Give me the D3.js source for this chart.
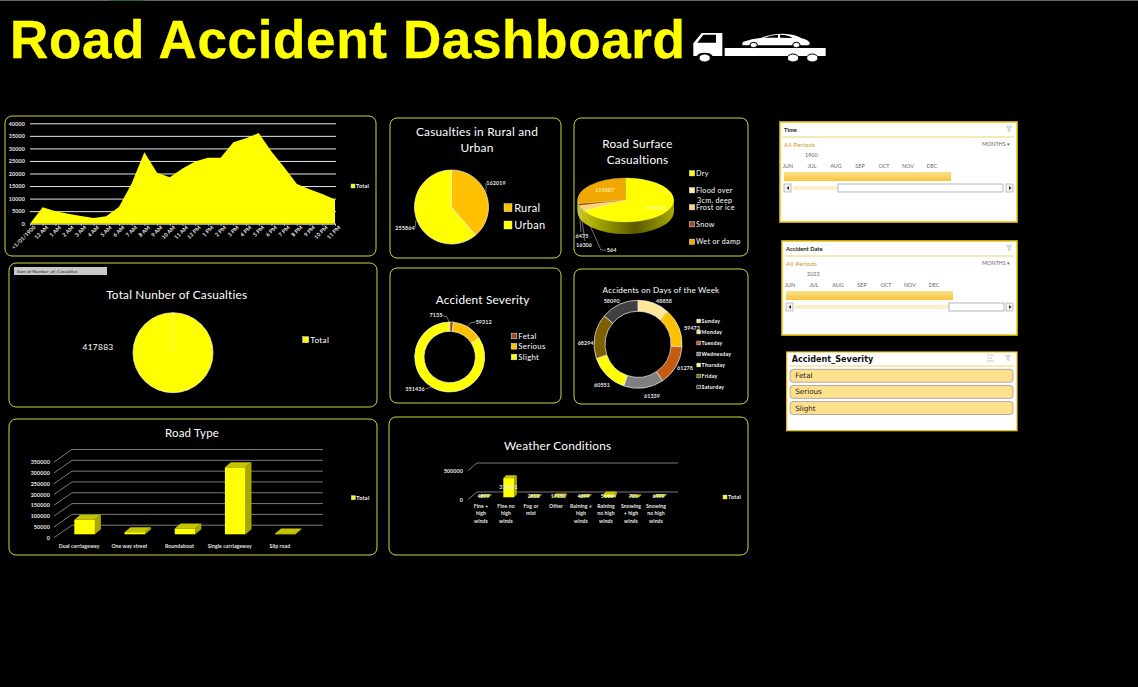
<!DOCTYPE html>
<html>
<head>
<meta charset="utf-8">
<script src="https://cdn.jsdelivr.net/npm/d3@7"></script>
<style>
  html, body { margin: 0; padding: 0; background: #000; overflow: hidden; }
  svg { display: block; }
  text { font-family: Lato, "Noto Sans", sans-serif; fill: #fff; }
  .small { font-size: 5.4px; font-weight: 700; fill: #e8e8e8; letter-spacing: 0.1px; }
  .domain { display: none; }
</style>
</head>
<body>
<div id="chart"></div>
<script>
// values
const hours = ["<1/01/1900", "12 AM", "1 AM", "2 AM", "3 AM", "4 AM", "5 AM", "6 AM", "7 AM", "8 AM", "9 AM", "10 AM", "11 AM",
  "12 PM", "1 PM", "2 PM", "3 PM", "4 PM", "5 PM", "6 PM", "7 PM", "8 PM", "9 PM", "10 PM", "11 PM"];
const hourValues = [0, 6600, 5000, 4000, 3100, 2300, 3000, 6700, 16000, 28500, 20300, 18500, 22000,
  24800, 26300, 26300, 32500, 34000, 36100, 28800, 22500, 15800, 13700, 11800, 9600];

const areaNames = ["Rural", "Urban"];
const areaValues = [162019, 255864];

const surfaceNames = ["Dry", "Flood over", "Frost or ice", "Snow", "Wet or damp"];
const surfaceValues = [279445, 564, 16306, 6475, 114887];

const totalValue = [417883];

const severityNames = ["Fetal", "Serious", "Slight"];
const severityValues = [7135, 59312, 351436];

const dayNames = ["Sunday", "Monday", "Tuesday", "Wednesday", "Thursday", "Friday", "Saturday"];
const dayValues = [48858, 59473, 61278, 61339, 60551, 68294, 58090];

const roadNames = ["Dual carriageway", "One way street", "Roundabout", "Single carriageway", "Slip road"];
const roadValues = [67368, 9900, 26828, 309698, 4089];
const roadTicks = [0, 50000, 100000, 150000, 200000, 250000, 300000, 350000];

const weatherNames = [["Fine +", "high", "winds"], ["Fine no", "high", "winds"], ["Fog or", "mist"], ["Other"],
  ["Raining +", "high", "winds"], ["Raining", "no high", "winds"], ["Snowing", "+ high", "winds"], ["Snowing", "no high", "winds"]];
const weatherValues = [4899, 330011, 2810, 17150, 4699, 51114, 701, 6499];
const weatherTicks = [0, 500000];

const monthLabels = ["JUN", "JUL", "AUG", "SEP", "OCT", "NOV", "DEC"];
const severityButtons = ["Fetal", "Serious", "Slight"];

const yellow = "#ffff00", orange = "#ffc000";
const panels = [
  [5, 116, 371, 140], [390, 118, 171, 140], [574, 118, 174, 138],
  [9, 263, 368, 144], [390, 268, 171, 135], [574, 269, 174, 135],
  [9, 419, 368, 136], [389, 417, 359, 138]
];

const svg = d3.select("#chart").append("svg").attr("width", 1138).attr("height", 687);

svg.append("rect").attr("width", 1138).attr("height", 1).attr("fill", "#666");
svg.append("rect").attr("x", 110).attr("width", 33).attr("height", 1).attr("fill", "#1d6b35");

svg.append("text")
  .attr("x", 10).attr("y", 57.5)
  .style("font-family", '"Liberation Sans", Arial, sans-serif')
  .style("font-weight", 700).style("font-size", "53px").style("fill", yellow)
  .style("letter-spacing", "0.65px")
  .attr("stroke", yellow).attr("stroke-width", 0.4)
  .text("Road Accident Dashboard");

// tow truck icon
const truck = svg.append("g").attr("transform", "translate(680,20) scale(0.3333)").attr("fill", "#fff");
truck.append("path").attr("d", "M40 70 L65 39 L127 39 L127 108 L98 108 A25 14 0 0 0 50 108 L40 108 Z");
truck.append("path").attr("d", "M52 68 L70 44 L108 44 L108 68 Z").attr("fill", "#000");
truck.append("rect").attr("x", 134).attr("y", 84).attr("width", 303).attr("height", 24);
truck.selectAll("ellipse.w").data([[74, 114], [339, 114], [397, 114]]).join("ellipse")
  .attr("cx", d => d[0]).attr("cy", d => d[1]).attr("rx", 17).attr("ry", 12)
  .attr("stroke", "#000").attr("stroke-width", 3);
truck.append("path").attr("d", "M187 76 L188 66 Q215 56 245 53 Q270 41 310 41 Q345 42 365 55 Q388 60 390 72 L384 76 L362 76 A14 12 0 0 0 336 76 L234 76 A14 12 0 0 0 208 76 Z");
truck.append("path").attr("d", "M252 53 Q270 45 294 44 L294 53 Z M300 44 Q322 44 338 54 L300 53 Z").attr("fill", "#000");
truck.selectAll("ellipse.c").data([[221, 75], [349, 75]]).join("ellipse")
  .attr("cx", d => d[0]).attr("cy", d => d[1]).attr("rx", 11).attr("ry", 8)
  .attr("stroke", "#000").attr("stroke-width", 3);

svg.selectAll("rect.panel").data(panels).join("rect")
  .attr("class", "panel")
  .attr("x", d => d[0]).attr("y", d => d[1]).attr("width", d => d[2]).attr("height", d => d[3])
  .attr("rx", 7).attr("fill", "#000").attr("stroke", "#d4d43c").attr("stroke-width", 1);

const title = (lines, x, y, size) => {
  svg.append("g").selectAll("text").data(lines).join("text")
    .attr("x", x).attr("y", (d, i) => y + i * 16)
    .attr("dy", "0.35em").attr("text-anchor", "middle")
    .style("font-size", `${size}px`).style("letter-spacing", "0.2px")
    .text(d => d);
};

const legend = (names, colors, x, ys, size, weight) => {
  const g = svg.append("g");
  const box = size * 0.72;
  names.forEach((name, i) => {
    g.append("rect")
      .attr("x", x - box / 2).attr("y", ys[i] - box / 2).attr("width", box).attr("height", box)
      .attr("fill", colors[i]).attr("stroke", "#eee").attr("stroke-width", 0.5);
    g.append("text")
      .attr("x", x + box / 2 + size * 0.2).attr("y", ys[i]).attr("dy", "0.35em")
      .style("font-size", `${size}px`).style("font-weight", weight || 400)
      .style("letter-spacing", "0.3px")
      .text(name);
  });
};

const label = (value, x, y, size) => {
  svg.append("text")
    .attr("x", x).attr("y", y).attr("dy", "0.35em").attr("text-anchor", "middle")
    .attr("class", "small").style("font-size", `${size || 5.4}px`)
    .text(value);
};

const leader = (points) => {
  svg.append("path")
    .attr("d", d3.line()(points))
    .attr("fill", "none").attr("stroke", "#bbb").attr("stroke-width", 0.6);
};

const drawPie = (values, colors, cx, cy, inner, outer) => {
  const pie = d3.pie().sort(null)(values);
  const arc = d3.arc().innerRadius(inner).outerRadius(outer);
  svg.append("g").attr("transform", `translate(${cx},${cy})`)
    .selectAll("path").data(pie).join("path")
    .attr("d", arc).attr("fill", (d, i) => colors[i])
    .attr("stroke", "#f2f2f2").attr("stroke-width", 0.7);
};

// casualties by hour
const drawHours = () => {
  const x = d3.scalePoint().domain(hours).range([30, 335]);
  const y = d3.scaleLinear().domain([0, 40000]).range([223.7, 123.3]);

  svg.append("g").attr("transform", "translate(30,0)")
    .call(d3.axisLeft(y).ticks(8).tickSize(-306).tickPadding(5).tickFormat(d3.format("d")))
    .call(g => g.selectAll("line").attr("stroke", "#e8e8e8"))
    .call(g => g.selectAll("text").attr("class", "small").style("fill", "#e8e8e8"));

  const area = d3.area()
    .x((d, i) => x(hours[i])).y0(y(0)).y1(d => y(d));
  svg.append("path").datum(hourValues).attr("d", area).attr("fill", yellow);

  svg.append("g").attr("transform", `translate(0,${y(0)})`)
    .call(d3.axisBottom(x).tickSize(2).tickPadding(2))
    .call(g => g.selectAll("line").attr("stroke", "#ccc"))
    .call(g => g.selectAll("text").attr("class", "small")
      .attr("text-anchor", "end").attr("dx", "1px").attr("dy", "0.5em")
      .attr("transform", "rotate(-45)"));

  legend(["Total"], [yellow], 353, [186], 5.4, 700);
};

// pie charts and donuts
const drawRural = () => {
  title(["Casualties in Rural and", "Urban"], 477, 132, 11.9);
  const colors = [orange, yellow];
  drawPie(areaValues, colors, 451.5, 207, 0, 37);
  label(areaValues[0], 496, 183);
  label(areaValues[1], 405, 228);
  leader([[486, 183], [486, 192]]);
  leader([[415, 228], [416, 220]]);
  legend(areaNames, colors, 508, [207.7, 225], 11);
};

const drawSurface = () => {
  title(["Road Surface", "Casualtions"], 637.5, 144, 11.8);
  const colors = [yellow, "#fff2a0", "#ffd37a", "#a0461e", "#f0a800"];
  const cx = 625.7, cy = 200, rx = 48, tilt = 0.46, thick = 12;
  const grad = svg.append("defs").append("linearGradient").attr("id", "rim");
  [[0, "#c8c800"], [0.15, "#b0b000"], [0.6, "#5a5a00"], [1, "#a8a800"]].forEach(s =>
    grad.append("stop").attr("offset", s[0]).attr("stop-color", s[1]));

  const arc = d3.arc().innerRadius(0).outerRadius(rx);
  const g = svg.append("g");
  for (let t = thick; t > 0; t -= 1) {
    g.append("ellipse")
      .attr("cx", cx).attr("cy", cy + t).attr("rx", rx).attr("ry", rx * tilt)
      .attr("fill", "url(#rim)");
  }
  g.append("g").attr("transform", `translate(${cx},${cy}) scale(1,${tilt})`)
    .selectAll("path").data(d3.pie().sort(null)(surfaceValues)).join("path")
    .attr("d", arc).attr("fill", (d, i) => colors[i])
    .attr("stroke", "#ffffb0").attr("stroke-width", 0.3);

  svg.append("text").attr("x", 655.7).attr("y", 207.7).attr("dy", "0.35em").attr("text-anchor", "middle")
    .attr("class", "small").style("fill", "#fffbb0").text(surfaceValues[0]);
  svg.append("text").attr("x", 604.7).attr("y", 190).attr("dy", "0.35em").attr("text-anchor", "middle")
    .attr("class", "small").style("fill", "#ffe9a0").text(surfaceValues[4]);
  label(surfaceValues[3], 582, 236);
  label(surfaceValues[2], 584, 245);
  label(surfaceValues[1], 611.7, 250);
  leader([[579, 205], [581, 232]]);
  leader([[580, 207], [585, 241]]);
  leader([[582, 208], [601, 250], [606, 250]]);

  legend(surfaceNames, colors, 692, [173.3, 190.3, 207.3, 224.3, 241.7], 7.2);
  svg.append("text").attr("x", 697).attr("y", 200).attr("dy", "0.35em")
    .style("font-size", "7.2px").style("letter-spacing", "0.3px").text("3cm. deep");
};

const drawTotal = () => {
  svg.append("rect").attr("x", 14).attr("y", 267).attr("width", 93).attr("height", 8).attr("fill", "#c8c8c8");
  svg.append("text").attr("x", 17).attr("y", 271).attr("dy", "0.35em")
    .style("font-size", "4.6px").style("fill", "#222").text("Sum of Number_of_Casualties");
  title(["Total Nunber of Casualties"], 176.7, 295, 11.8);
  drawPie(totalValue, [yellow], 173, 352.7, 0, 40);
  svg.append("line").attr("x1", 173).attr("x2", 173).attr("y1", 312.7).attr("y2", 352.7)
    .attr("stroke", "#f2f2b0").attr("stroke-width", 0.7);
  svg.append("text").attr("x", 98).attr("y", 347).attr("dy", "0.35em").attr("text-anchor", "middle")
    .style("font-size", "8.4px").style("letter-spacing", "0.3px").text(totalValue[0]);
  legend(["Total"], [yellow], 305.7, [339.7], 8.2);
};

const drawSeverity = () => {
  title(["Accident Severity"], 482.7, 300, 11.8);
  const colors = ["#a0461e", orange, yellow];
  drawPie(severityValues, colors, 449.7, 357, 25.7, 35);
  label(severityValues[0], 436, 314.7);
  label(severityValues[1], 483.7, 322);
  label(severityValues[2], 415, 388.7);
  leader([[441, 315], [447, 317], [449, 322]]);
  leader([[476, 322], [470, 323], [468, 326]]);
  leader([[426, 388.7], [432, 387]]);
  legend(severityNames, colors, 514, [336, 346.3, 357], 7.8);
};

const drawDays = () => {
  title(["Accidents on Days of the Week"], 661, 290, 8.1);
  const colors = ["#ffe699", orange, "#c55a11", "#7f7f7f", yellow, "#7f6000", "#404040"];
  drawPie(dayValues, colors, 638, 344.3, 33, 44);
  const pos = [[664, 301], [692, 328], [685, 367.7], [652, 395.7], [602, 385], [585.7, 343], [611.7, 301]];
  dayValues.forEach((v, i) => label(v, pos[i][0], pos[i][1]));
  legend(dayNames, ["#ffe699", "#ffe699", "#c55a11", "#7f7f7f", "#ffff80", "#7f6000", "#404040"], 698.7,
    [321, 332, 343, 354, 365, 376, 387], 5.2, 700);
};

// 3D looking bars
const drawBar3d = (g, x, w, yTop, yBase, dx, dy) => {
  g.append("path")
    .attr("d", `M${x + w} ${yBase} l${dx} ${-dy} L${x + w + dx} ${yTop - dy} L${x + w} ${yTop} Z`)
    .attr("fill", "#a8a800");
  g.append("path")
    .attr("d", `M${x} ${yTop} l${dx} ${-dy} l${w} 0 l${-dx} ${dy} Z`)
    .attr("fill", "#c4c400");
  g.append("rect").attr("x", x).attr("y", yTop).attr("width", w).attr("height", Math.max(0, yBase - yTop))
    .attr("fill", yellow);
};

const drawRoads = () => {
  title(["Road Type"], 192, 433, 11.5);
  const y = d3.scaleLinear().domain([0, 350000]).range([537.7, 462]);
  const x = d3.scaleBand().domain(roadNames).range([54, 305]).paddingInner(0.59).paddingOuter(0.295);
  const backDx = 18, backDy = 12.5;

  const grid = svg.append("g").attr("stroke", "#999").attr("stroke-width", 0.8).attr("fill", "none");
  roadTicks.forEach(t => {
    grid.append("path").attr("d", d3.line()([
      [54, y(t)], [54 + backDx, y(t) - backDy], [323, y(t) - backDy]
    ]));
  });

  svg.append("g").attr("transform", "translate(54,0)")
    .call(d3.axisLeft(y).tickValues(roadTicks).tickSize(0).tickPadding(4).tickFormat(d3.format("d")))
    .call(g => g.selectAll("text").attr("class", "small"));

  const bars = svg.append("g");
  roadValues.forEach((v, i) => {
    drawBar3d(bars, x(roadNames[i]) + 5.5, x.bandwidth(), y(v) - 3.4, y(0) - 3.4, 6, 5);
  });

  svg.append("g").selectAll("text").data(roadNames).join("text")
    .attr("class", "small").style("font-size", "5.1px")
    .attr("x", d => x(d) + x.bandwidth() / 2).attr("y", 546).attr("dy", "0.35em").attr("text-anchor", "middle")
    .text(d => d);

  legend(["Total"], [yellow], 353.3, [497.7], 5.4, 700);
};

const drawWeather = () => {
  title(["Weather Conditions"], 557.7, 446, 11.8);
  const y = d3.scaleLinear().domain([0, 500000]).range([499.5, 470.5]);
  const keys = d3.range(weatherNames.length);
  const x = d3.scaleBand().domain(keys).range([468.5, 668.5]).paddingInner(0.57).paddingOuter(0.285);
  const backDx = 9, backDy = 7.5;

  const grid = svg.append("g").attr("stroke", "#999").attr("stroke-width", 0.8).attr("fill", "none");
  weatherTicks.forEach(t => {
    grid.append("path").attr("d", d3.line()([
      [468, y(t)], [468 + backDx, y(t) - backDy], [678, y(t) - backDy]
    ]));
  });

  svg.append("g").attr("transform", "translate(468,0)")
    .call(d3.axisLeft(y).tickValues(weatherTicks).tickSize(0).tickPadding(5).tickFormat(d3.format("d")))
    .call(g => g.selectAll("text").attr("class", "small"));

  const bars = svg.append("g");
  weatherValues.forEach((v, i) => {
    drawBar3d(bars, x(i) + 2.7, x.bandwidth(), y(v) - 2.2, y(0) - 2.2, 2.8, 2.8);
  });

  weatherValues.forEach((v, i) => {
    const ly = i === 1 ? 487 : 496;
    label(v, x(i) + x.bandwidth() / 2 + 2.5, ly, 5.1);
  });

  weatherNames.forEach((lines, i) => {
    svg.append("g").selectAll("text").data(lines).join("text")
      .attr("class", "small").style("font-size", "5.1px")
      .attr("x", x(i) + x.bandwidth() / 2).attr("y", (d, j) => 506 + j * 7.4)
      .attr("dy", "0.35em").attr("text-anchor", "middle")
      .text(d => d);
  });

  legend(["Total"], [yellow], 725, [497], 5.4, 700);
};

// slicers on the right
const grad2 = svg.append("defs").append("linearGradient")
  .attr("id", "barFill").attr("x1", 0).attr("x2", 0).attr("y1", 0).attr("y2", 1);
grad2.append("stop").attr("offset", 0).attr("stop-color", "#fbe08a");
grad2.append("stop").attr("offset", 1).attr("stop-color", "#f9c53c");

const filterIcon = (x, y) => {
  svg.append("path")
    .attr("d", `M${x} ${y} h6 l-2 3 v3 l-2 -1 v-2 Z`)
    .attr("fill", "#ddd").attr("stroke", "#bbb").attr("stroke-width", 0.4);
};

const drawTimeline = (x0, y0, w, h, name, year, barEnd, thumbX0, thumbX1, stripX0, stripX1) => {
  svg.append("rect").attr("x", x0).attr("y", y0).attr("width", w).attr("height", h)
    .attr("fill", "#fff").attr("stroke", "#f2c811").attr("stroke-width", 1.6);
  svg.append("text").attr("x", x0 + 4).attr("y", y0 + 7.5).attr("dy", "0.35em")
    .style("font-size", "5.8px").style("font-weight", 700).style("fill", "#222").text(name);
  svg.append("line").attr("x1", x0 + 3).attr("x2", x0 + w - 3).attr("y1", y0 + 15).attr("y2", y0 + 15)
    .attr("stroke", "#e8c84a").attr("stroke-width", 0.8);
  filterIcon(x0 + w - 11, y0 + 4);
  svg.append("text").attr("x", x0 + 4).attr("y", y0 + 22.5).attr("dy", "0.35em")
    .style("font-size", "6.2px").style("fill", "#c89a20").style("letter-spacing", "0.2px").text("All Periods");
  svg.append("text").attr("x", x0 + w - 7).attr("y", y0 + 22.5).attr("dy", "0.35em").attr("text-anchor", "end")
    .style("font-size", "5.4px").style("fill", "#666").text("MONTHS  ▾");
  svg.append("text").attr("x", x0 + 25).attr("y", y0 + 33).attr("dy", "0.35em")
    .style("font-size", "5.4px").style("fill", "#666").text(year);

  const m = d3.scalePoint().domain(monthLabels).range([x0 + 8, x0 + 152]);
  svg.append("g").selectAll("text").data(monthLabels).join("text")
    .attr("x", d => m(d)).attr("y", y0 + 44).attr("dy", "0.35em").attr("text-anchor", "middle")
    .style("font-size", "5.4px").style("fill", "#666").text(d => d);

  svg.append("rect").attr("x", x0 + 4).attr("y", y0 + 50).attr("width", barEnd - x0 - 4).attr("height", 9)
    .attr("fill", "url(#barFill)");

  const sy = y0 + 62;
  svg.append("rect").attr("x", stripX0).attr("y", sy + 2).attr("width", stripX1 - stripX0).attr("height", 4).attr("fill", "#fdeec8");
  svg.append("rect").attr("x", thumbX0).attr("y", sy).attr("width", thumbX1 - thumbX0).attr("height", 8)
    .attr("fill", "#fff").attr("stroke", "#999").attr("stroke-width", 0.7);
  [[x0 + 4, "M5 2 L2.5 4 L5 6 Z"], [x0 + w - 11, "M3 2 L5.5 4 L3 6 Z"]].forEach(b => {
    const g = svg.append("g").attr("transform", `translate(${b[0]},${sy})`);
    g.append("rect").attr("width", 7).attr("height", 8).attr("fill", "#f4f4f4").attr("stroke", "#999").attr("stroke-width", 0.6);
    g.append("path").attr("d", b[1]).attr("fill", "#333");
  });
};

const drawButtons = () => {
  const x0 = 786.7, y0 = 352, w = 230.3, h = 78.7;
  svg.append("rect").attr("x", x0).attr("y", y0).attr("width", w).attr("height", h)
    .attr("fill", "#fff").attr("stroke", "#f2c811").attr("stroke-width", 1.2);
  svg.append("text").attr("x", x0 + 5).attr("y", y0 + 7).attr("dy", "0.35em")
    .style("font-family", '"DejaVu Sans", sans-serif')
    .style("font-size", "8.1px").style("font-weight", 700).style("fill", "#111").text("Accident_Severity");
  svg.append("line").attr("x1", x0 + 3).attr("x2", x0 + w - 3).attr("y1", y0 + 14).attr("y2", y0 + 14)
    .attr("stroke", "#e8c84a").attr("stroke-width", 0.8);
  filterIcon(x0 + w - 12, y0 + 3);
  svg.append("path")
    .attr("d", `M${x0 + w - 30} ${y0 + 3} h7 M${x0 + w - 30} ${y0 + 6} h5 M${x0 + w - 30} ${y0 + 9} h7`)
    .attr("stroke", "#bbb").attr("stroke-width", 0.8);

  const y = d3.scaleBand().domain(severityButtons).range([y0 + 17.3, y0 + 62.5]).paddingInner(0.2);
  const btn = svg.append("g").selectAll("g").data(severityButtons).join("g")
    .attr("transform", d => `translate(${x0 + 3.5},${y(d)})`);
  btn.append("rect").attr("width", w - 7.5).attr("height", y.bandwidth()).attr("rx", 3)
    .attr("fill", "#ffe08f").attr("stroke", "#999").attr("stroke-width", 0.8);
  btn.append("text").attr("x", 5).attr("y", y.bandwidth() / 2).attr("dy", "0.35em")
    .style("font-family", '"DejaVu Sans", sans-serif')
    .style("font-size", "7.2px").style("fill", "#222").text(d => d);
};

drawHours();
drawRural();
drawSurface();
drawTotal();
drawSeverity();
drawDays();
drawRoads();
drawWeather();
drawTimeline(780, 122, 237, 100, "Time", "1900", 951, 838, 1003, 793, 838);
drawTimeline(782, 241, 235, 94, "Accident Date", "2023", 953, 949, 1004, 795, 949);
drawButtons();
</script>
</body>
</html>
